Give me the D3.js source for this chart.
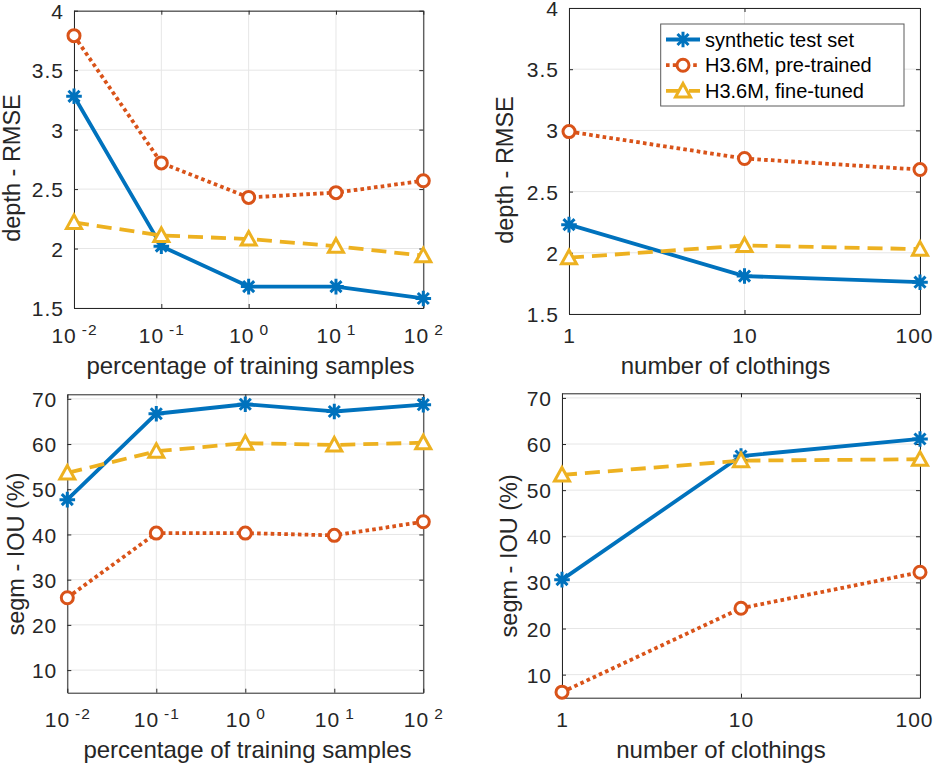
<!DOCTYPE html>
<html>
<head>
<meta charset="utf-8">
<script src="https://cdn.jsdelivr.net/npm/d3@7"></script>
<style>
  html, body { margin: 0; padding: 0; background: #ffffff; }
  svg { display: block; font-family: "Liberation Sans", Arial, Helvetica, sans-serif; }
</style>
</head>
<body>
<svg id="chart" width="935" height="765"></svg>
<script>
// ---------------- data ----------------
const xTrain = [0.01, 0.1, 1, 10, 100];
const xCloth = [1, 10, 100];

const depthTrainSynth = [3.28, 2.02, 1.68, 1.68, 1.58];
const depthTrainPre   = [3.79, 2.72, 2.43, 2.47, 2.57];
const depthTrainFine  = [2.22, 2.11, 2.08, 2.02, 1.94];

const depthClothSynth = [2.23, 1.81, 1.76];
const depthClothPre   = [2.99, 2.77, 2.68];
const depthClothFine  = [1.96, 2.06, 2.03];

const segTrainSynth = [47.7, 66.7, 68.8, 67.2, 68.7];
const segTrainPre   = [26.0, 40.3, 40.3, 39.8, 42.8];
const segTrainFine  = [53.6, 58.4, 60.2, 59.8, 60.3];

const segClothSynth = [30.6, 57.4, 61.1];
const segClothPre   = [6.2, 24.4, 32.2];
const segClothFine  = [53.3, 56.4, 56.7];

const depthTicks = [1.5, 2, 2.5, 3, 3.5, 4];
const segTicks = [10, 20, 30, 40, 50, 60, 70];
const trainTickExp = ["-2", "-1", "0", "1", "2"];
const clothTickLabels = ["1", "10", "100"];

const seriesNames = ["synthetic test set", "H3.6M, pre-trained", "H3.6M, fine-tuned"];
const xLabelTrain = "percentage of training samples";
const xLabelCloth = "number of clothings";
const yLabelDepth = "depth - RMSE";
const yLabelSeg = "segm - IOU (%)";

// ---------------- styles ----------------
const styles = [
  { color: "#0072BD", dash: null,      marker: "asterisk" },
  { color: "#D95319", dash: "3.6,3.2", marker: "circle" },
  { color: "#EDB120", dash: "15,8",    marker: "triangle" }
];
const textColor = "#262626";
const gridColor = "#e6e6e6";
const tickFont = 21;

// ---------------- layout ----------------
const panels = [
  { x0: 74,  x1: 423.3, y0: 10.7,  y1: 308,   xDom: [0.01, 100], yDom: [1.5, 4],
    xVals: xTrain, xKind: "train", yTicks: depthTicks, series: [depthTrainSynth, depthTrainPre, depthTrainFine],
    xLabel: xLabelTrain, yLabel: yLabelDepth, xLabelX: 250.5, xLabelY: 374, yLabelX: 20, yLabelY: 168, tickOff: 35 },
  { x0: 569, x1: 920,   y0: 8,     y1: 314,   xDom: [1, 100], yDom: [1.5, 4],
    xVals: xCloth, xKind: "cloth", yTicks: depthTicks, series: [depthClothSynth, depthClothPre, depthClothFine],
    xLabel: xLabelCloth, yLabel: yLabelDepth, xLabelX: 725.5, xLabelY: 374, yLabelX: 513, yLabelY: 170, tickOff: 29, legend: true },
  { x0: 67.3, x1: 423.3, y0: 394.3, y1: 692.7, xDom: [0.01, 100], yDom: [5, 71],
    xVals: xTrain, xKind: "train", yTicks: segTicks, series: [segTrainSynth, segTrainPre, segTrainFine],
    xLabel: xLabelTrain, yLabel: yLabelSeg, xLabelX: 247.5, xLabelY: 758, yLabelX: 23.5, yLabelY: 554, tickOff: 34 },
  { x0: 562, x1: 920,   y0: 393.3, y1: 697.7, xDom: [1, 100], yDom: [5, 71],
    xVals: xCloth, xKind: "cloth", yTicks: segTicks, series: [segClothSynth, segClothPre, segClothFine],
    xLabel: xLabelCloth, yLabel: yLabelSeg, xLabelX: 721, xLabelY: 758, yLabelX: 517, yLabelY: 555.8, tickOff: 29 }
];

const svg = d3.select("#chart");

function markerPath(kind) {
  if (kind === "asterisk") {
    const a = 7.8, b = a * 0.7071;
    return `M0,${-a}V${a}M${-a},0H${a}M${-b},${-b}L${b},${b}M${-b},${b}L${b},${-b}`;
  }
  if (kind === "triangle") {
    return "M0,-7.5L7.5,6L-7.5,6Z";
  }
  return d3.symbol(d3.symbolCircle, Math.PI * 6 * 6)();
}

function drawMarker(g, kind, color, x, y) {
  g.append("path")
    .attr("d", markerPath(kind))
    .attr("transform", `translate(${x},${y})`)
    .attr("fill", kind === "asterisk" ? "none" : "#ffffff")
    .attr("stroke", color)
    .attr("stroke-width", 3)
    .attr("stroke-linejoin", "miter");
}

panels.forEach(p => {
  const x = d3.scaleLog().domain(p.xDom).range([p.x0, p.x1]);
  const y = d3.scaleLinear().domain(p.yDom).range([p.y1, p.y0]);
  const g = svg.append("g");

  // grid
  g.append("g").selectAll("line").data(p.xVals).join("line")
    .attr("x1", d => x(d)).attr("x2", d => x(d)).attr("y1", p.y0).attr("y2", p.y1)
    .attr("stroke", gridColor).attr("stroke-width", 1);
  g.append("g").selectAll("line").data(p.yTicks).join("line")
    .attr("x1", p.x0).attr("x2", p.x1).attr("y1", d => y(d)).attr("y2", d => y(d))
    .attr("stroke", gridColor).attr("stroke-width", 1);

  // axes (inward ticks, mirrored)
  const axB = d3.axisBottom(x).tickValues(p.xVals).tickSize(-4).tickSizeOuter(0)
    .tickFormat((d, i) => p.xKind === "train" ? "10" : clothTickLabels[i]);
  const gB = g.append("g").attr("transform", `translate(0,${p.y1})`).call(axB);
  gB.selectAll("text").attr("y", p.tickOff).attr("dy", 0)
    .attr("font-size", tickFont).attr("letter-spacing", "1px").attr("fill", textColor)
    .attr("font-family", "Liberation Sans, Arial, sans-serif");
  if (p.xKind === "train") {
    gB.selectAll("text").each(function(d, i) {
      d3.select(this).append("tspan").attr("dx", 5).attr("dy", -8)
        .attr("font-size", 15.5).text(trainTickExp[i]);
    });
  } else {
    // keep the last label inside the picture, as in the reference
    gB.selectAll("text").filter((d, i) => i === p.xVals.length - 1).attr("dx", -6);
  }
  const axL = d3.axisLeft(y).tickValues(p.yTicks).tickSize(-4).tickSizeOuter(0).tickPadding(10)
    .tickFormat(d => String(d));
  const gL = g.append("g").attr("transform", `translate(${p.x0},0)`).call(axL);
  gL.selectAll("text").attr("font-size", tickFont).attr("letter-spacing", "1px").attr("fill", textColor)
    .attr("dy", "0.36em").attr("font-family", "Liberation Sans, Arial, sans-serif");
  const axT = d3.axisTop(x).tickValues(p.xVals).tickSize(-4).tickSizeOuter(0).tickFormat("");
  g.append("g").attr("transform", `translate(0,${p.y0})`).call(axT);
  const axR = d3.axisRight(y).tickValues(p.yTicks).tickSize(-4).tickSizeOuter(0).tickFormat("");
  g.append("g").attr("transform", `translate(${p.x1},0)`).call(axR);
  g.selectAll(".domain").attr("stroke", textColor).attr("stroke-width", 1);
  g.selectAll(".tick line").attr("stroke", textColor).attr("stroke-width", 1);

  // labels
  g.append("text").attr("x", p.xLabelX).attr("y", p.xLabelY).attr("text-anchor", "middle")
    .attr("font-size", 24).attr("fill", textColor).text(p.xLabel);
  g.append("text").attr("transform", `translate(${p.yLabelX},${p.yLabelY}) rotate(-90)`)
    .attr("text-anchor", "middle").attr("font-size", 23.5).attr("fill", textColor).text(p.yLabel);

  // series
  const line = d3.line().x(d => x(d[0])).y(d => y(d[1]));
  p.series.forEach((vals, si) => {
    const st = styles[si];
    const pts = p.xVals.map((xv, i) => [xv, vals[i]]);
    g.append("path").datum(pts).attr("d", line)
      .attr("fill", "none").attr("stroke", st.color).attr("stroke-width", 3.8)
      .attr("stroke-dasharray", st.dash).attr("stroke-linejoin", "round");
  });
  p.series.forEach((vals, si) => {
    const st = styles[si];
    p.xVals.forEach((xv, i) => drawMarker(g, st.marker, st.color, x(xv), y(vals[i])));
  });

  // legend
  if (p.legend) {
    const lg = svg.append("g");
    lg.append("rect").attr("x", 660.7).attr("y", 24).attr("width", 243.3).attr("height", 82)
      .attr("fill", "#ffffff").attr("stroke", "#5a5a5a").attr("stroke-width", 1);
    seriesNames.forEach((name, si) => {
      const st = styles[si];
      const ly = 39.5 + si * 25.7;
      lg.append("line").attr("x1", 666).attr("x2", 700).attr("y1", ly).attr("y2", ly)
        .attr("stroke", st.color).attr("stroke-width", 3.8).attr("stroke-dasharray", st.dash);
      drawMarker(lg, st.marker, st.color, 683, ly);
      lg.append("text").attr("x", 705).attr("y", ly).attr("dy", "0.35em")
        .attr("font-size", 20).attr("fill", "#000000").text(name);
    });
  }
});
</script>
</body>
</html>
